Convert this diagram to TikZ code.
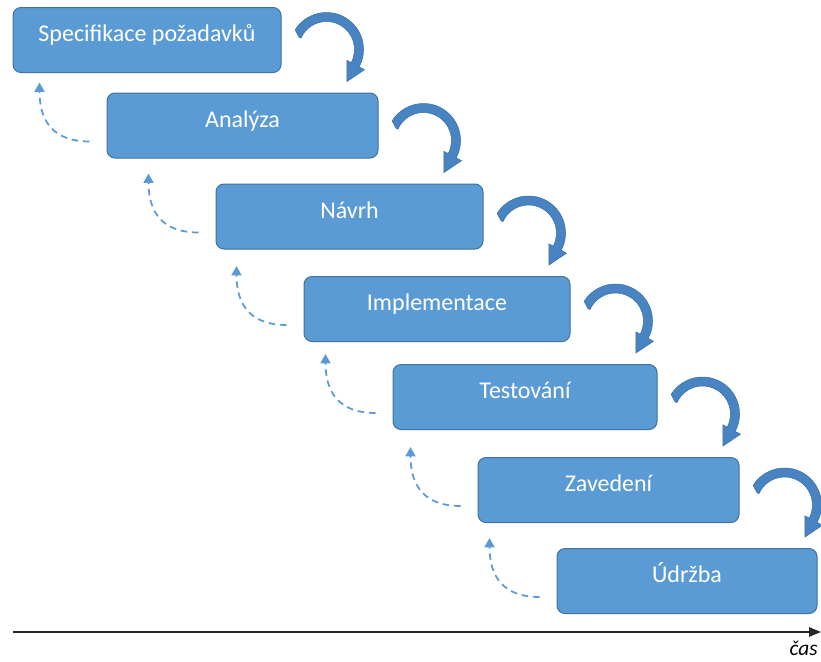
\documentclass[tikz,border=0pt]{standalone}
\usepackage{fontspec}
\setmainfont{Carlito}
\usetikzlibrary{calc,arrows.meta}
\definecolor{boxfill}{HTML}{5B9BD5}
\definecolor{boxedge}{HTML}{41719C}
\definecolor{arrfill}{HTML}{4884C2}
\definecolor{arredge}{HTML}{3A6EA5}
\definecolor{dashc}{HTML}{5B9BD5}
\begin{document}
\begin{tikzpicture}[x=0.75pt,y=-0.75pt,
  stage/.style={draw=boxedge, fill=boxfill, line width=0.75pt, rounded corners=6pt, minimum height=48.75pt, inner sep=0pt},
  lbl/.style={text=white, font=\fontsize{18}{21}\selectfont, inner sep=0pt, anchor=base},
  back/.style={dashc, line width=1.3pt, dash pattern=on 5pt off 3.5pt, -{Triangle[width=7.5pt,length=7pt]}},
  axis/.style={black!85, line width=1.2pt, -{Triangle[width=7pt,length=9pt]}},
  curv/.pic={
    \filldraw[fill=arrfill, draw=arredge, line width=0.4pt, yscale=-1]
      (156:30) -- (148:37) arc[start angle=148, end angle=-28, radius=37]
      -- (-28:43) -- (20.5,-32) -- (-28:23) -- (-28:28)
      arc[start angle=-28, end angle=156, radius=28] -- cycle;
  }
]
\useasboundingbox (0,0) rectangle (821,661);

\node[stage, minimum width=201pt]    (b1) at (147,40) {};
\node[stage, minimum width=203.25pt] (b2) at (242.5,125.5) {};
\node[stage, minimum width=200.25pt] (b3) at (349.5,216.5) {};
\node[stage, minimum width=199.5pt]  (b4) at (437,309) {};
\node[stage, minimum width=198pt]    (b5) at (525,397) {};
\node[stage, minimum width=195.75pt] (b6) at (608.5,490) {};
\node[stage, minimum width=195pt]    (b7) at (687,581) {};

\node[lbl] (t1) at ($(b1.north)+(0,34.5)$) {Specifikace požadavků};
\node[lbl] (t2) at ($(b2.north)+(0,34.5)$) {Analýza};
\node[lbl] (t3) at ($(b3.north)+(0,34.5)$) {Návrh};
\node[lbl] (t4) at ($(b4.north)+(0,34.5)$) {Implementace};
\node[lbl] (t5) at ($(b5.north)+(0,34.5)$) {Testování};
\node[lbl] (t6) at ($(b6.north)+(0,34.5)$) {Zavedení};
\node[lbl] (t7) at ($(b7.north)+(0,34.5)$) {Údržba};

% forward curved arrows
\pic at ($(b1.east |- b2.north)+(45,-43)$) {curv};
\pic at ($(b2.east |- b3.north)+(45,-43)$) {curv};
\pic at ($(b3.east |- b4.north)+(45,-43)$) {curv};
\pic at ($(b4.east |- b5.north)+(45,-43)$) {curv};
\pic at ($(b5.east |- b6.north)+(45,-43)$) {curv};
\pic at ($(b6.east |- b7.north)+(45,-43)$) {curv};

% dashed feedback arrows
\foreach \k in {b2,b3,b4,b5,b6,b7}{
  \draw[back] ($(\k.south west)+(-17,-17)$) .. controls +(-35,0) and +(0,40) .. ($(\k.north west)+(-67,-10)$);
}

% time axis
\coordinate (axl) at (13,632);
\coordinate (axr) at (821,632);
\draw[axis] (axl) -- (axr);
\node[anchor=base east, inner sep=0pt, font=\fontsize{16}{19}\selectfont\itshape] (cas) at (818,655) {čas};
\end{tikzpicture}
\end{document}
